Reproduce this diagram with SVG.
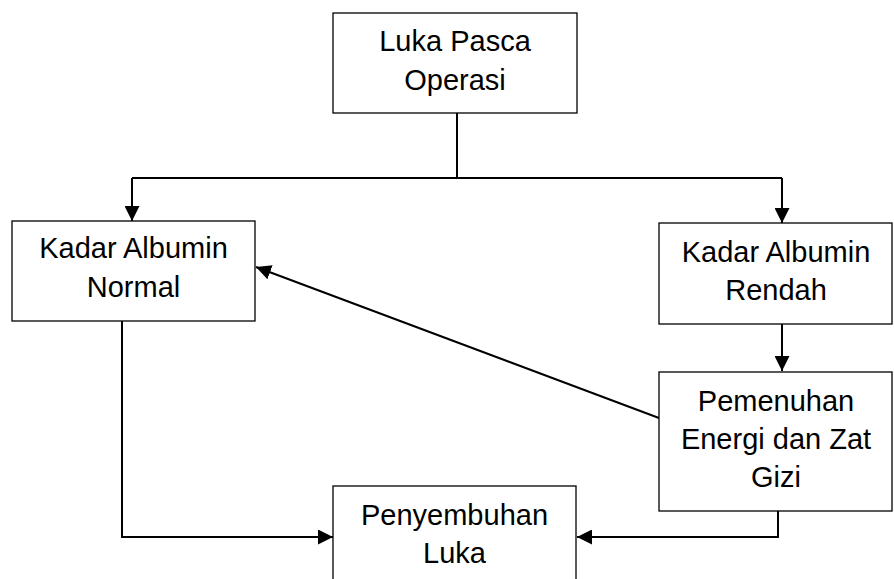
<svg xmlns="http://www.w3.org/2000/svg" width="894" height="579" viewBox="0 0 894 579">
<style>
.box{fill:#fff;stroke:#000;stroke-width:1.3}
.t{font-family:"Liberation Sans",Arial,sans-serif;font-size:29px;fill:#000;text-anchor:middle}
.c{fill:none;stroke:#000;stroke-width:2}
</style>
<defs>
<marker id="ah" viewBox="0 0 10 10" refX="10" refY="5" markerWidth="7.5" markerHeight="7.5" markerUnits="strokeWidth" orient="auto">
<path d="M0,0 L10,5 L0,10 z" fill="#000"/>
</marker>
</defs>
<g id="connectors">
<path class="c" d="M457,113 V178"/>
<path class="c" d="M132,178 H782"/>
<path class="c" d="M132,178 V221" marker-end="url(#ah)"/>
<path class="c" d="M782,178 V223" marker-end="url(#ah)"/>
<path class="c" d="M782,324 V371" marker-end="url(#ah)"/>
<path class="c" d="M659,418 L256,267" marker-end="url(#ah)"/>
<path class="c" d="M122,321 V537 H333" marker-end="url(#ah)"/>
<path class="c" d="M778,511 V537 H577" marker-end="url(#ah)"/>
</g>
<g id="luka-pasca-operasi">
<rect class="box" x="333" y="13" width="244" height="100"/>
<text class="t" x="455" y="51">Luka Pasca</text>
<text class="t" x="455" y="90">Operasi</text>
</g>
<g id="kadar-albumin-normal">
<rect class="box" x="12" y="221" width="243" height="100"/>
<text class="t" x="133.5" y="258">Kadar Albumin</text>
<text class="t" x="133.5" y="297">Normal</text>
</g>
<g id="kadar-albumin-rendah">
<rect class="box" x="659" y="223" width="233" height="101"/>
<text class="t" x="776" y="262">Kadar Albumin</text>
<text class="t" x="776" y="300">Rendah</text>
</g>
<g id="pemenuhan-energi">
<rect class="box" x="659" y="372" width="233" height="139"/>
<text class="t" x="776" y="411">Pemenuhan</text>
<text class="t" x="776" y="449">Energi dan Zat</text>
<text class="t" x="776" y="487">Gizi</text>
</g>
<g id="penyembuhan-luka">
<rect class="box" x="333" y="486" width="243" height="110"/>
<text class="t" x="454.5" y="525">Penyembuhan</text>
<text class="t" x="454.5" y="563">Luka</text>
</g>
</svg>
